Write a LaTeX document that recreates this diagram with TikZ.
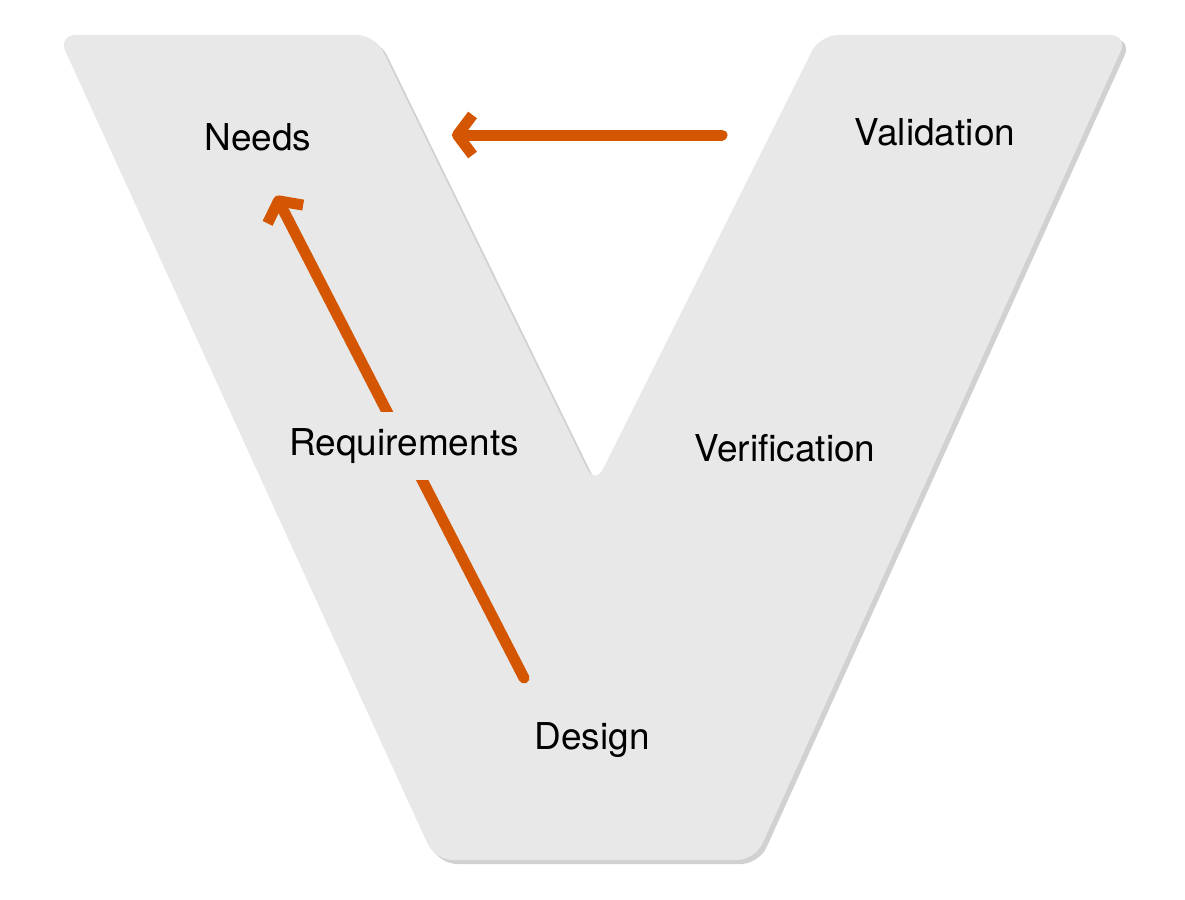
\documentclass[tikz,border=0pt]{standalone}
\usepackage{fontspec}
\setmainfont{TeX Gyre Heros}
\usetikzlibrary{positioning}
\usetikzlibrary{arrows.meta}
\definecolor{vgray}{RGB}{232,232,232}
\definecolor{vorange}{RGB}{212,86,2}
\tikzset{
  stage/.style={font=\fontsize{37}{42}\selectfont, text=black},
  loop/.style={draw=vorange, line width=11pt, line cap=round, -{Straight Barb[length=15pt,width=40pt,line join=round]}}
}
\begin{document}
\begin{tikzpicture}[x=1pt,y=-1pt]
  \useasboundingbox[fill=white] (0,0) rectangle (1185,899);
  % shadow of the V
  \fill[black!18, rounded corners=18pt, xshift=4pt, yshift=-4pt]
    (58,35) -- (375,35) -- (595,485) -- (820,35) -- (1128,35) -- (755,860) -- (435,860) -- cycle;
  % the V
  \fill[vgray, rounded corners=18pt]
    (58,35) -- (375,35) -- (595,485) -- (820,35) -- (1128,35) -- (755,860) -- (435,860) -- cycle;

  % stages
  \node[stage] (needs) at (258,137) {Needs};
  \node[stage] (valid) at (935,132) {Validation};
  \node[stage] (verif) at (785,448) {Verification};
  \node[stage] (design) at (592,740) {Design};

  % feedback arrows
  \coordinate (vstart) at (722,135);
  \coordinate (vend) at (452,135);
  \coordinate (dstart) at (524,678);
  \coordinate (dend) at (276,196);
  \draw[loop] (vstart) -- (vend);
  \draw[loop] (dstart) -- (dend);

  \node[stage, fill=vgray, inner xsep=3pt, inner ysep=16pt] (req) at (404,446) {Requirements};
\end{tikzpicture}
\end{document}
